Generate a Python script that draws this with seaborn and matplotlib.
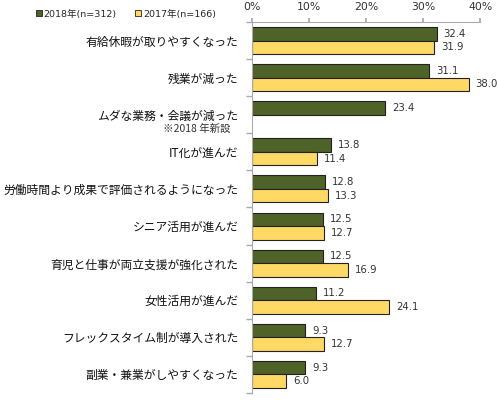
import numpy as np
import pandas as pd
import matplotlib
matplotlib.use("Agg")
import matplotlib.pyplot as plt
import seaborn as sns
from matplotlib.patches import Patch

categories = ["有給休暇が取りやすくなった", "残業が減った", "ムダな業務・会議が減った", "IT化が進んだ",
              "労働時間より成果で評価されるようになった", "シニア活用が進んだ", "育児と仕事が両立支援が強化された",
              "女性活用が進んだ", "フレックスタイム制が導入された", "副業・兼業がしやすくなった"]
values_2018 = [32.4, 31.1, 23.4, 13.8, 12.8, 12.5, 12.5, 11.2, 9.3, 9.3]
values_2017 = [31.9, 38.0, np.nan, 11.4, 13.3, 12.7, 16.9, 24.1, 12.7, 6.0]
series = ["2018年(n=312)", "2017年(n=166)"]
xticks = [0, 10, 20, 30, 40]
note = "※2018 年新設"

sns.set_theme(style="white")
plt.rcParams['font.family'] = ['Noto Sans CJK JP', 'DejaVu Sans']

df = pd.DataFrame({
    "cat": categories * 2,
    "val": values_2018 + values_2017,
    "series": [series[0]] * len(categories) + [series[1]] * len(categories),
})

colors = ["#4F6228", "#FFD966"]
fig = plt.figure(figsize=(4.98, 4.00), dpi=100)
ax = fig.add_axes([0.506, 0.0175, 0.458, 0.9275])
sns.barplot(data=df, y="cat", x="val", hue="series", order=categories, hue_order=series,
            palette=colors, orient="h", width=0.73, edgecolor="#222222", linewidth=0.8,
            ax=ax, legend=False, saturation=1)

ax.set_xlim(0, 40)
ax.set_ylim(len(categories) - 0.5, -0.5)
ax.set_xticks(xticks)
ax.set_xticklabels([f"{t}%" for t in xticks], fontsize=7.8, color="#333333", family=['DejaVu Sans'])
ax.xaxis.tick_top()
ax.tick_params(axis="x", which="major", top=True, length=3, color="#aaaaaa", pad=4)
ax.set_xlabel("")
ax.set_ylabel("")
ax.set_yticks(range(len(categories)))
ax.set_yticklabels(categories, fontsize=8.5, color="#111111")
ax.tick_params(axis="y", which="major", length=0, pad=10)
ax.set_yticks(np.arange(-0.5, len(categories), 1), minor=True)
ax.tick_params(axis="y", which="minor", left=True, length=4, color="#aaaaaa")
for s in ["right", "bottom"]:
    ax.spines[s].set_visible(False)
for s in ["top", "left"]:
    ax.spines[s].set_color("#aaaaaa")
    ax.spines[s].set_linewidth(0.8)

for container in ax.containers:
    labels = ["" if np.isnan(v) else f"{v:.1f}" for v in container.datavalues]
    ax.bar_label(container, labels=labels, padding=5, fontsize=7.3, color="#333333", family=['DejaVu Sans'])

ax.text(-3.8, 2.38, note, transform=ax.transData, ha="right", va="center", fontsize=7.5,
        color="#333333", clip_on=False)

handles = [Patch(facecolor=colors[0], edgecolor="#222222", linewidth=0.6),
           Patch(facecolor=colors[1], edgecolor="#222222", linewidth=0.6)]
fig.legend(handles, series, loc="center left", bbox_to_anchor=(0.055, 0.965), ncol=2, frameon=False,
           handlelength=0.6, handleheight=0.6, handletextpad=0.2, columnspacing=2.0,
           prop={'family': ['DejaVu Sans', 'Noto Sans CJK JP'], 'size': 6.8})

fig.savefig("out.png", dpi=100)
